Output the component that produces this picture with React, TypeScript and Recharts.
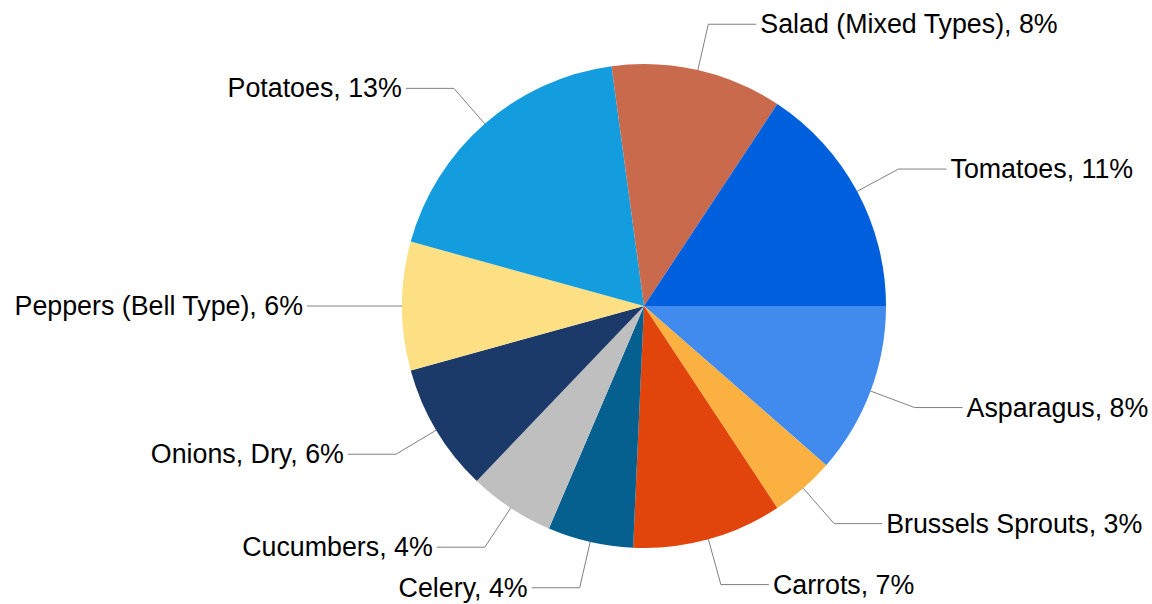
import { PieChart, Pie, Cell } from "recharts"

const categories = [
  "Asparagus",
  "Brussels Sprouts",
  "Carrots",
  "Celery",
  "Cucumbers",
  "Onions, Dry",
  "Peppers (Bell Type)",
  "Potatoes",
  "Salad (Mixed Types)",
  "Tomatoes",
]
const shares = [8, 3, 7, 4, 4, 6, 6, 13, 8, 11]
const colors = [
  "#418BEE",
  "#FBB141",
  "#E1450C",
  "#06608F",
  "#BFBFBF",
  "#1B3A69",
  "#FEE084",
  "#139CDE",
  "#C86A4B",
  "#005FDD",
]

const data = categories.map((name, i) => ({ name, value: shares[i] }))

const RAD = Math.PI / 180

// leader line: radial step out of the slice, then a flat run to the text
function renderLabel(props: any) {
  const { cx, cy, midAngle, outerRadius, name, value } = props
  const cos = Math.cos(-midAngle * RAD)
  const sin = Math.sin(-midAngle * RAD)
  const x0 = cx + outerRadius * cos
  const y0 = cy + outerRadius * sin
  const x1 = cx + (outerRadius + 47) * cos
  const y1 = cy + (outerRadius + 47) * sin
  const right = cos >= 0
  const x2 = x1 + (right ? 48 : -48)
  const tx = x2 + (right ? 4 : -4)
  return (
    <g>
      <polyline
        points={`${x0},${y0} ${x1},${y1} ${x2},${y1}`}
        fill="none"
        stroke="#808080"
        strokeWidth={1}
      />
      <text
        x={tx}
        y={y1}
        textAnchor={right ? "start" : "end"}
        dominantBaseline="central"
        fill="#000"
        fontSize={26.8}
        fontFamily="'Liberation Sans', Arial, sans-serif"
      >
        {`${name}, ${value}%`}
      </text>
    </g>
  )
}

export default function App() {
  return (
    <div style={{ position: "absolute", left: 0, top: 0, width: 1152, height: 604, background: "#fff" }}>
      <PieChart width={1152} height={604} margin={{ top: 0, right: 0, bottom: 0, left: 0 }}>
        <Pie
          data={data}
          dataKey="value"
          nameKey="name"
          cx={644}
          cy={306}
          outerRadius={242}
          startAngle={0}
          endAngle={-360}
          stroke="none"
          label={renderLabel}
          labelLine={false}
          isAnimationActive={false}
        >
          {data.map((d, i) => (
            <Cell key={d.name} fill={colors[i]} />
          ))}
        </Pie>
      </PieChart>
    </div>
  )
}
